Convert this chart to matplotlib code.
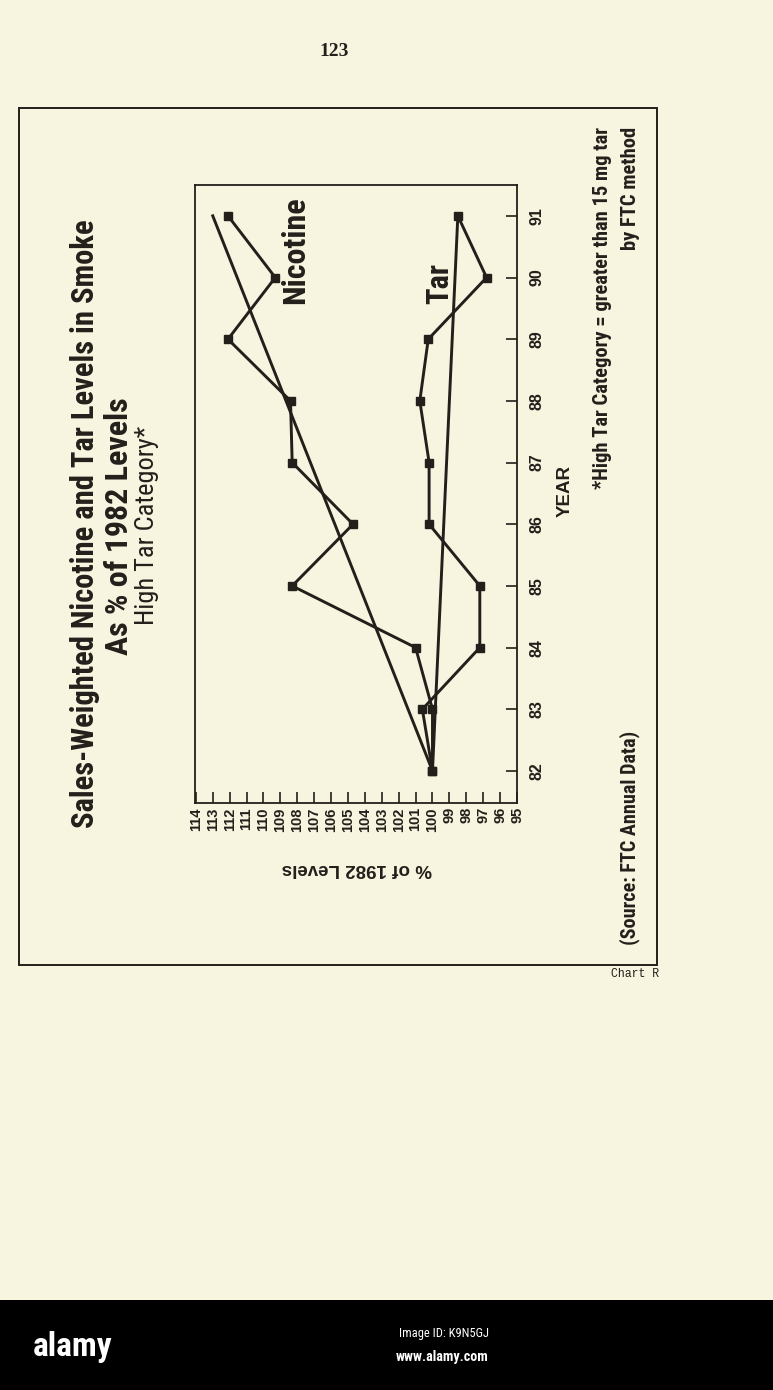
import matplotlib
matplotlib.use("Agg")
import matplotlib.pyplot as plt
from matplotlib import font_manager
from matplotlib.patches import Rectangle

# ---------------- data ----------------
years = [82, 83, 84, 85, 86, 87, 88, 89, 90, 91]
nicotine = [100.0, 100.0, 101.0, 108.3, 104.7, 108.3, 108.4, 112.1, 109.3, 112.1]
tar = [100.0, 100.6, 97.2, 97.2, 100.2, 100.2, 100.75, 100.25, 96.8, 98.5]
trend_years = [82, 91]
nicotine_trend = [100.0, 113.0]
tar_trend = [100.0, 98.5]
pct_ticks = list(range(95, 115))
year_ticks = years

W, H = 773, 1390
BG = "#f7f4df"
INK = "#231f1b"


def pick(names):
    for n in names:
        try:
            font_manager.findfont(font_manager.FontProperties(family=n), fallback_to_default=False)
            return n
        except Exception:
            pass
    return "DejaVu Sans"


NARROW = pick(["Liberation Sans Narrow", "Arial Narrow", "Roboto Condensed", "DejaVu Sans"])
SANS = pick(["Liberation Sans", "Arial", "DejaVu Sans"])
SERIF = pick(["Liberation Serif", "DejaVu Serif"])
MONO = pick(["Liberation Mono", "DejaVu Sans Mono"])
narrow_scale = 1.0 if NARROW != "DejaVu Sans" else 0.8

fig = plt.figure(figsize=(W / 100, H / 100), dpi=100)
fig.patch.set_facecolor(BG)


def fx(x):
    return x / W


def fy(y):
    return 1 - y / H


# overlay axes in pixel coords for decorations
deco = fig.add_axes([0, 0, 1, 1], zorder=0)
deco.set_xlim(0, W)
deco.set_ylim(H, 0)
deco.axis("off")
deco.add_patch(Rectangle((19, 108), 638, 857, fill=False, lw=1.4, ec=INK))
deco.add_patch(Rectangle((0, 1300), W, 90, color="black", lw=0))

# ---------------- main chart ----------------
L, R, T, B = 195, 517, 185, 803
ax = fig.add_axes([fx(L), fy(B), (R - L) / W, (B - T) / H], zorder=2)
ax.set_facecolor("none")
ax.plot(nicotine, years, color=INK, lw=2.1, marker="s", ms=5.5, mfc=INK, mec=INK)
ax.plot(tar, years, color=INK, lw=2.1, marker="s", ms=5.5, mfc=INK, mec=INK)
ax.plot(nicotine_trend, trend_years, color=INK, lw=2.1)
ax.plot(tar_trend, trend_years, color=INK, lw=2.1)

ax.set_xlim(114.05, 95.15)
ax.set_ylim(81.48, 91.5)
ax.set_xticks(pct_ticks)
ax.set_xticklabels([str(v) for v in pct_ticks], rotation=90, fontsize=10.5,
                   fontweight="bold", family=SANS, color=INK)
ax.yaxis.tick_right()
ax.set_yticks(year_ticks)
ax.set_yticklabels([str(v) for v in year_ticks], rotation=90, fontsize=11.5,
                   fontweight="bold", family=SANS, color=INK, va="center")
ax.tick_params(axis="x", direction="in", length=8, width=1.2, pad=3, colors=INK)
ax.tick_params(axis="y", direction="in", length=8, width=1.2, pad=9, colors=INK)
for s in ax.spines.values():
    s.set_linewidth(1.3)
    s.set_color(INK)

ax.text(108.14, 90.44, "Nicotine", rotation=90, ha="center", va="center",
        fontsize=23 * narrow_scale, fontweight="bold", family=NARROW, color=INK)
ax.text(99.58, 89.9, "Tar", rotation=90, ha="center", va="center",
        fontsize=22 * narrow_scale, fontweight="bold", family=NARROW, color=INK)

# ---------------- texts ----------------
def t(x, y, s, **kw):
    fig.text(fx(x), fy(y), s, color=kw.pop("color", INK), **kw)


t(85, 524, "Sales-Weighted Nicotine and Tar Levels in Smoke", rotation=90,
  ha="center", va="center", fontsize=22 * narrow_scale, fontweight="bold", family=NARROW)
t(119, 526, "As % of 1982 Levels", rotation=90, ha="center", va="center",
  fontsize=23 * narrow_scale, fontweight="bold", family=NARROW)
t(147, 525, "High Tar Category*", rotation=90, ha="center", va="center",
  fontsize=19 * narrow_scale, family=NARROW)
t(357, 868, "% of 1982 Levels", rotation=180, ha="center", va="center",
  fontsize=13.5, fontweight="bold", family=SANS)
t(565, 491, "YEAR", rotation=90, ha="center", va="center",
  fontsize=13.5, fontweight="bold", family=SANS)
t(603, 127, "*High Tar Category = greater than 15 mg tar", rotation=90,
  ha="center", va="top", fontsize=14.8 * narrow_scale, fontweight="bold", family=NARROW)
t(630, 127, "by FTC method", rotation=90, ha="center", va="top",
  fontsize=14.8 * narrow_scale, fontweight="bold", family=NARROW)
t(630, 945, "(Source: FTC Annual Data)", rotation=90, ha="center", va="bottom",
  fontsize=14.5 * narrow_scale, fontweight="bold", family=NARROW)
t(334, 52, "123", ha="center", va="center", fontsize=14, fontweight="bold", family=SERIF)
t(659, 974, "Chart R", ha="right", va="center", fontsize=8.3, family=MONO)

# bottom banner
t(33, 1347, "alamy", ha="left", va="center", fontsize=24 * narrow_scale,
  fontweight="bold", family=NARROW, color="white")
t(489, 1333, "Image ID: K9N5GJ", ha="right", va="center", fontsize=9 * narrow_scale,
  family=NARROW, color="white")
t(489, 1357, "www.alamy.com", ha="right", va="center", fontsize=10.2 * narrow_scale,
  fontweight="bold", family=NARROW, color="white")

fig.savefig("out.png", dpi=100, facecolor=BG)
